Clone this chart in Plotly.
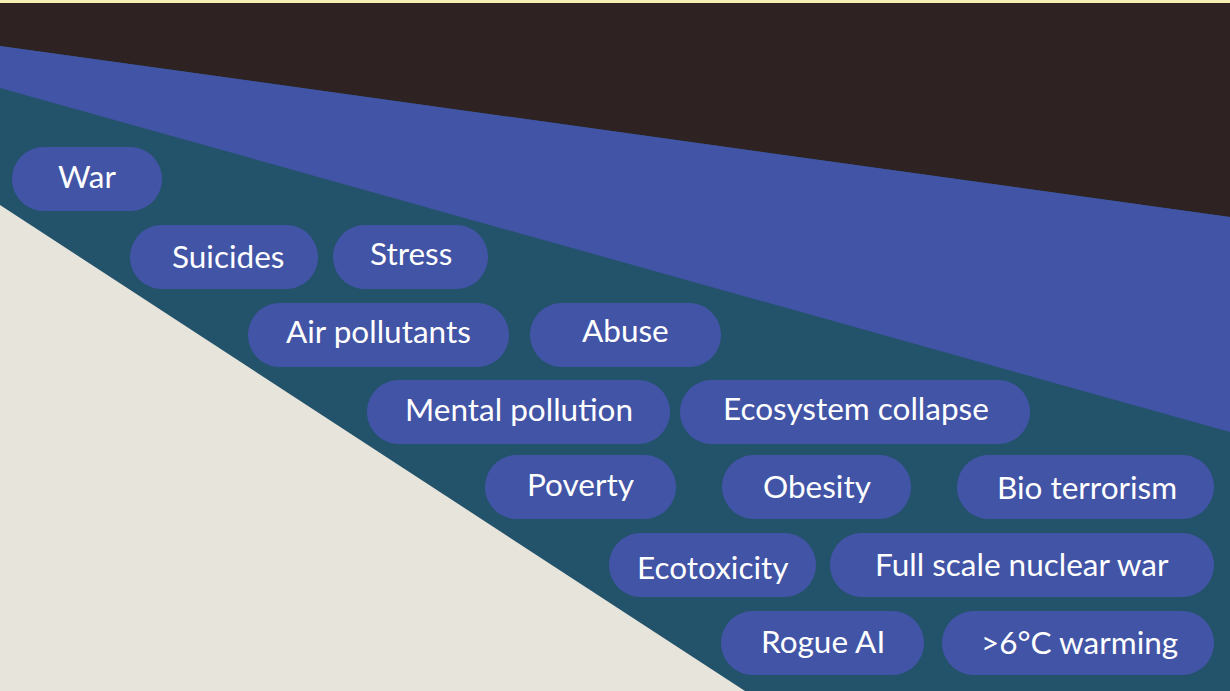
import numpy as np
import plotly.graph_objects as go

# ---- content ----
rows = [
    ["War"],
    ["Suicides", "Stress"],
    ["Air pollutants", "Abuse"],
    ["Mental pollution", "Ecosystem collapse"],
    ["Poverty", "Obesity", "Bio terrorism"],
    ["Ecotoxicity", "Full scale nuclear war"],
    ["Rogue AI", ">6°C warming"],
]

# ---- layout (pixel geometry of the diagram) ----
W, H = 1230, 691
row_centers = [179, 257, 335, 412, 487, 565, 643]
pill_h = 64
pill_spans = [
    [(12, 162)],
    [(130, 318), (333, 488)],
    [(248, 509), (530, 721)],
    [(367, 670), (680, 1030)],
    [(485, 676), (722, 911), (957, 1214)],
    [(609, 816), (830, 1214)],
    [(721, 924), (942, 1214)],
]
text_dy = [
    [-3],
    [-1, -4],
    [-4, -5],
    [-3, -4],
    [-3, -1, 0],
    [2, -1],
    [-2, -1],
]
text_dx = [
    [0],
    [4, 0],
    [0, 0],
    [0, 1],
    [0, 0, 1],
    [0, 0],
    [0, 1],
]

C_DARK = "#2e2222"
C_BLUE = "#4254a5"
C_TEAL = "#23526b"
C_BEIGE = "#e7e4db"
C_YELLOW = "#f6efb4"

bands = [
    (C_DARK, [(0, 0), (W, 0), (W, 217), (0, 46)]),
    (C_BLUE, [(0, 46), (W, 217), (W, 432), (0, 88)]),
    (C_BEIGE, [(0, 205), (745, H), (0, H)]),
    (C_YELLOW, [(0, 0), (W, 0), (W, 3), (0, 3)]),
]


def poly_path(pts):
    return "M " + " L ".join(f"{x:.2f},{y:.2f}" for x, y in pts) + " Z"


def pill_path(x0, x1, yc, h):
    r = h / 2
    pts = []
    for t in np.linspace(-np.pi / 2, np.pi / 2, 25):
        pts.append((x1 - r + r * np.cos(t), yc + r * np.sin(t)))
    for t in np.linspace(np.pi / 2, 3 * np.pi / 2, 25):
        pts.append((x0 + r + r * np.cos(t), yc + r * np.sin(t)))
    return poly_path(pts)


shapes = []
for color, pts in bands:
    shapes.append(dict(type="path", path=poly_path(pts), xref="x", yref="y",
                       fillcolor=color, line=dict(width=0), layer="below"))

annotations = []
for labels, spans, yc, dys, dxs in zip(rows, pill_spans, row_centers, text_dy, text_dx):
    for lab, (x0, x1), dy, dx in zip(labels, spans, dys, dxs):
        shapes.append(dict(type="path", path=pill_path(x0, x1, yc, pill_h),
                           xref="x", yref="y", fillcolor=C_BLUE,
                           line=dict(width=0), layer="above"))
        annotations.append(dict(x=(x0 + x1) / 2 + dx, y=yc + dy, text=lab,
                                xref="x", yref="y", showarrow=False,
                                xanchor="center", yanchor="middle",
                                font=dict(family="Lato", size=31.5, color="white")))

fig = go.Figure()
fig.add_trace(go.Scatter(x=[0, W], y=[0, H], mode="markers",
                         marker=dict(opacity=0), hoverinfo="skip", showlegend=False))
fig.update_layout(
    width=W, height=H,
    margin=dict(l=0, r=0, t=0, b=0),
    paper_bgcolor=C_TEAL, plot_bgcolor=C_TEAL,
    shapes=shapes, annotations=annotations,
    xaxis=dict(range=[0, W], visible=False, fixedrange=True),
    yaxis=dict(range=[H, 0], visible=False, fixedrange=True),
    showlegend=False,
)
fig.write_html("out.html", config={"displayModeBar": False},
               post_script="document.body.style.margin='0';document.body.style.overflow='hidden';")
